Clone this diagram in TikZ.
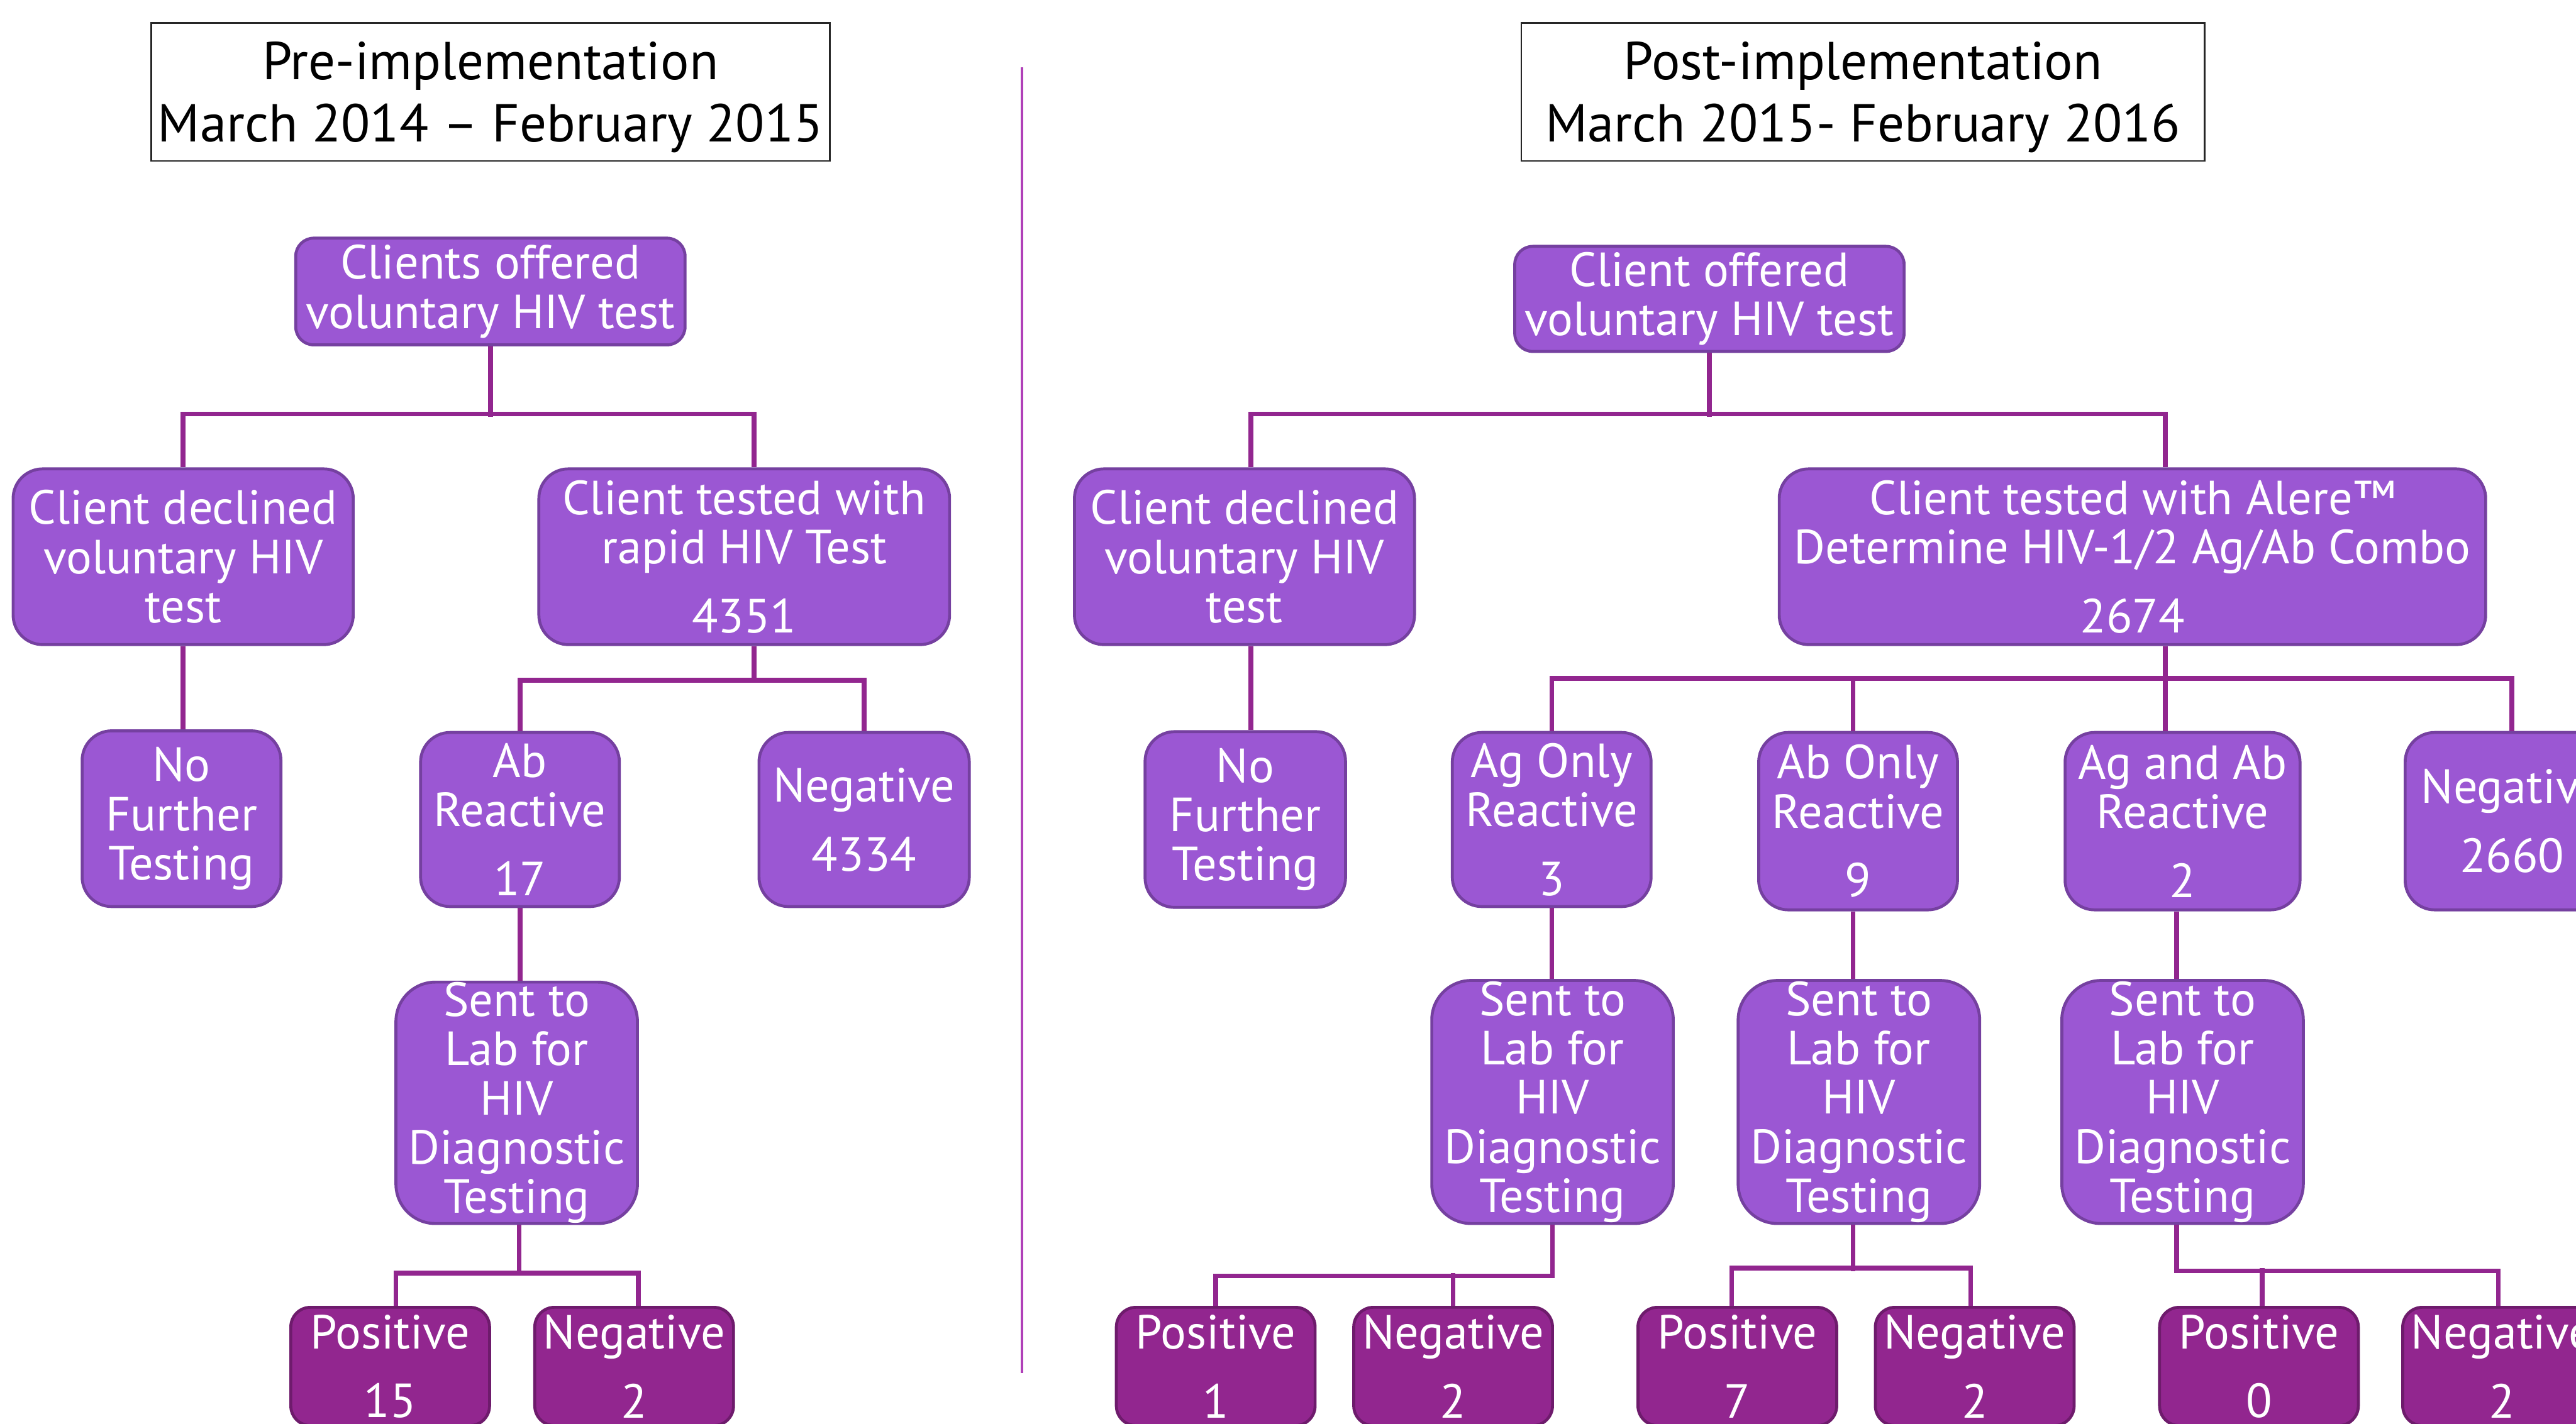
\documentclass[tikz,border=0pt]{standalone}
\usepackage{fontspec}
\setmainfont{PT Sans}
\definecolor{boxfill}{HTML}{9B57D3}
\definecolor{boxline}{HTML}{7540A0}
\definecolor{darkfill}{HTML}{92268F}
\definecolor{darkline}{HTML}{6E1B6C}
\definecolor{conncol}{HTML}{92268F}
\definecolor{divcol}{HTML}{B040B8}
\tikzset{
  pbox/.style={rectangle, draw=boxline, fill=boxfill, line width=1.8pt, text=white,
    align=center, inner sep=0pt, rounded corners=18pt, font=\fontsize{29.2}{30}\selectfont},
  sentbox/.style={pbox, rounded corners=24pt, minimum width=147pt, minimum height=148pt},
  dbox/.style={pbox, draw=darkline, fill=darkfill, rounded corners=12pt,
    minimum width=121pt, minimum height=72pt},
  hbox/.style={rectangle, draw=black!85, line width=1pt, fill=white, align=center,
    inner sep=0pt, text depth=0pt, font=\fontsize{32.5}{38}\selectfont},
  conn/.style={draw=conncol, line width=2.9pt},
  divider/.style={draw=divcol, line width=1.3pt},
  wh/.style 2 args={minimum width=#1, minimum height=#2},
}
\begin{document}
\begin{tikzpicture}[x=1pt,y=-1pt]
\useasboundingbox (0,0) rectangle (1568,867);
\clip (0,0) rectangle (1568,867);

% ---------- titles and divider ----------
\node[hbox, wh={413pt}{84pt}] (TL) at (298.5,56) {Pre-implementation\\March 2014 – February 2015};
\node[hbox, wh={416pt}{84pt}] (TR) at (1134,56) {Post-implementation\\March 2015- February 2016};
\coordinate (divtop) at (622,41);
\coordinate (divbot) at (622,836);
\draw[divider] (divtop) -- (divbot);

% ---------- left tree ----------
\node[pbox, rounded corners=11pt, wh={237pt}{65pt}] (LA) at (298.5,177.5) {Clients offered\\voluntary HIV test};
\node[pbox, wh={207pt}{107pt}] (LB) at (111.5,339) {Client declined\\voluntary HIV\\test};
\node[pbox, wh={250pt}{107pt}] (LC) at (453,339) {Client tested with\\rapid HIV Test\\[12pt]4351};
\node[pbox, wh={121pt}{107pt}] (LD) at (110.5,498.5) {No\\Further\\Testing};
\node[pbox, wh={121pt}{106pt}] (LE) at (316.5,499) {Ab\\Reactive\\[12pt]17};
\node[pbox, wh={128pt}{106pt}] (LF) at (526,499) {Negative\\[12pt]4334};
\node[sentbox, wh={147pt}{147pt}] (LG) at (314.5,671.5) {Sent to\\Lab for\\HIV\\Diagnostic\\Testing};
\node[dbox] (LH) at (237.5,832) {Positive\\[12pt]15};
\node[dbox] (LI) at (386,832) {Negative\\[12pt]2};

\coordinate (LCt) at ([xshift=6pt]LC.north);
\coordinate (LCb) at ([xshift=6pt]LC.south);
\coordinate (LGb) at ([xshift=1.5pt]LG.south);
\coordinate (LHt) at ([xshift=3.5pt]LH.north);
\coordinate (LIt) at ([xshift=2.5pt]LI.north);
\draw[conn] (LA.south) -- ++(0,43);
\draw[conn] (LB.north) -- ++(0,-32.5) -| (LCt);
\draw[conn] (LB.south) -- (LB.south |- LD.north);
\draw[conn] (LCb) -- ++(0,22.5);
\draw[conn] (LE.north) -- ++(0,-31) -| (LF.north);
\draw[conn] (LE.south) -- (LE.south |- LG.north);
\draw[conn] (LGb) -- ++(0,31);
\draw[conn] (LHt) -- ++(0,-20) -| (LIt);

% ---------- right tree ----------
\node[pbox, rounded corners=11pt, wh={237pt}{64pt}] (RA) at (1040.5,182) {Client offered\\voluntary HIV test};
\node[pbox, wh={207pt}{107pt}] (RB) at (757.5,339) {Client declined\\voluntary HIV\\test};
\node[pbox, wh={430pt}{107pt}] (RC) at (1298,339) {Client tested with Alere™\\Determine HIV-1/2 Ag/Ab Combo\\[12pt]2674};
\node[pbox, wh={122pt}{107pt}] (RD) at (758,499) {No\\Further\\Testing};
\node[pbox, wh={121pt}{106pt}] (RE) at (944.5,499) {Ag Only\\Reactive\\[12pt]3};
\node[pbox, wh={121pt}{108pt}] (RF) at (1131,500) {Ab Only\\Reactive\\[12pt]9};
\node[pbox, wh={143pt}{108pt}] (RG) at (1328.5,500) {Ag and Ab\\Reactive\\[12pt]2};
\node[pbox, wh={130pt}{108pt}] (RH) at (1529,500) {Negative\\[12pt]2660};
\node[sentbox] (RI) at (945,671) {Sent to\\Lab for\\HIV\\Diagnostic\\Testing};
\node[sentbox] (RJ) at (1131.5,671) {Sent to\\Lab for\\HIV\\Diagnostic\\Testing};
\node[sentbox] (RK) at (1328.5,671) {Sent to\\Lab for\\HIV\\Diagnostic\\Testing};
\node[dbox] (RL) at (740,832) {Positive\\[12pt]1};
\node[dbox] (RM) at (884.5,832) {Negative\\[12pt]2};
\node[dbox] (RN) at (1057.5,832) {Positive\\[12pt]7};
\node[dbox] (RO) at (1202,832) {Negative\\[12pt]2};
\node[dbox] (RP) at (1375,832) {Positive\\[12pt]0};
\node[dbox] (RQ) at (1523,832) {Negative\\[12pt]2};

\coordinate (RBt) at ([xshift=4pt]RB.north);
\coordinate (RBb) at ([xshift=4pt]RB.south);
\coordinate (RCt) at ([xshift=20pt]RC.north);
\coordinate (RCb) at ([xshift=20pt]RC.south);
\coordinate (RFt) at ([xshift=-3pt]RF.north);
\coordinate (RFb) at ([xshift=-3pt]RF.south);
\coordinate (RGt) at ([xshift=-10.5pt]RG.north);
\coordinate (RGb) at ([xshift=-3.5pt]RG.south);
\coordinate (RJb) at ([xshift=-3.5pt]RJ.south);
\coordinate (RKb) at ([xshift=-3.5pt]RK.south);
\coordinate (RNt) at ([xshift=-3.5pt]RN.north);
\coordinate (ROt) at ([xshift=-2.5pt]RO.north);
\coordinate (RPt) at ([xshift=2pt]RP.north);
\coordinate (RQt) at ([xshift=-2.3pt]RQ.north);
\draw[conn] (RA.south) -- ++(0,39);
\draw[conn] (RBt) -- ++(0,-32.5) -| (RCt);
\draw[conn] (RBb) -- (RBb |- RD.north);
\draw[conn] (RCb) -- ++(0,21.5);
\draw[conn] (RE.north) -- ++(0,-32) -| (RH.north);
\draw[conn] (RFt) -- ++(0,-32);
\draw[conn] (RGt) -- ++(0,-32);
\draw[conn] (RE.south) -- (RE.south |- RI.north);
\draw[conn] (RFb) -- (RFb |- RJ.north);
\draw[conn] (RGb) -- (RGb |- RK.north);
\draw[conn] (RI.south) -- ++(0,31) -| (RL.north);
\draw[conn] (RM.north) -- ++(0,-20);
\draw[conn] (RJb) -- ++(0,28);
\draw[conn] (RNt) -- ++(0,-23) -| (ROt);
\draw[conn] (RKb) -- ++(0,28) -| (RQt);
\draw[conn] (RPt) -- ++(0,-23);
\end{tikzpicture}
\end{document}
